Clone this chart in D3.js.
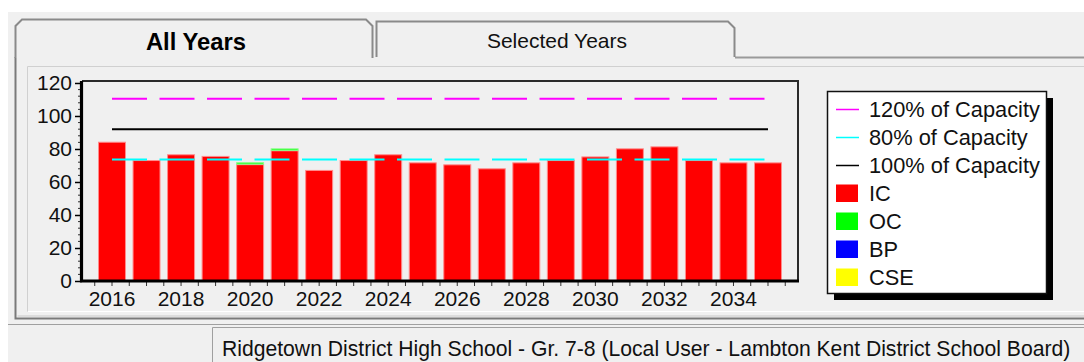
<!DOCTYPE html>
<html>
<head>
<meta charset="utf-8">
<script src="https://cdn.jsdelivr.net/npm/d3@7"></script>
<style>
  html, body { margin: 0; padding: 0; background: #ffffff; }
  svg { display: block; font-family: "Liberation Sans", Arial, sans-serif; }
</style>
</head>
<body>
<svg id="chart" width="1084" height="362"></svg>
<script>
// ---- data ----
const years = [2016, 2017, 2018, 2019, 2020, 2021, 2022, 2023, 2024, 2025,
               2026, 2027, 2028, 2029, 2030, 2031, 2032, 2033, 2034, 2035];
const icValues  = [84.4, 73.3, 76.8, 75.8, 70.8, 79.2, 67.3, 73.3, 76.8, 71.9,
                   70.7, 68.3, 71.9, 73.3, 75.5, 80.4, 81.6, 73.3, 71.9, 71.9];
const ocValues  = [0, 0, 0, 0, 1.2, 1.2, 0, 0, 0, 0,
                   0, 0, 0, 0, 0, 0, 0, 0, 0, 0];
const bpValues  = [0, 0, 0, 0, 0, 0, 0, 0, 0, 0,
                   0, 0, 0, 0, 0, 0, 0, 0, 0, 0];
const cseValues = [0, 0, 0, 0, 0, 0, 0, 0, 0, 0,
                   0, 0, 0, 0, 0, 0, 0, 0, 0, 0];
const seriesKeys = ["IC", "OC", "BP", "CSE"];

const capacity = 92;
const capacityLabels  = ["120% of Capacity", "80% of Capacity", "100% of Capacity"];
const capacityFactors = [1.2, 0.8, 1.0];

const yTickValues  = [0, 20, 40, 60, 80, 100, 120];
const xLabelYears  = [2016, 2018, 2020, 2022, 2024, 2026, 2028, 2030, 2032, 2034];
const tabLabels    = ["All Years", "Selected Years"];
const statusText   = "Ridgetown District High School - Gr. 7-8 (Local User - Lambton Kent District School Board)";

// ---- styles ----
const seriesColor = { IC: "#ff0000", OC: "#00ff00", BP: "#0000ff", CSE: "#ffff00" };
const capacityColor = ["#ff00ff", "#00ffff", "#000000"];
const capacityDash  = ["35,12.5", "35,12.5", null];
const FONT = 21;
const LEGEND_FONT = 21.8;

const svg = d3.select("#chart");

// ---- window chrome: tab control and status bar ----
svg.append("rect").attr("x", 8).attr("y", 12).attr("width", 1076).attr("height", 350)
  .attr("fill", "#f0f0f0");

// panel frame
svg.append("path")
  .attr("d", "M15.5,57 L15.5,318.5 L1084,318.5")
  .attr("fill", "none").attr("stroke", "#7a7a7a").attr("stroke-width", 2);
svg.append("path")
  .attr("d", "M735,57.5 L1084,57.5")
  .attr("fill", "none").attr("stroke", "#9a9a9a").attr("stroke-width", 2);
svg.append("path")
  .attr("d", "M17.5,316 L1084,316")
  .attr("fill", "none").attr("stroke", "#c8c8c8").attr("stroke-width", 1);

// inner chart area
svg.append("path")
  .attr("d", "M27.5,311.5 L27.5,66.5 L1084,66.5")
  .attr("fill", "none").attr("stroke", "#d0d0d0").attr("stroke-width", 1);
svg.append("path")
  .attr("d", "M28,311.5 L1084,311.5")
  .attr("fill", "none").attr("stroke", "#ffffff").attr("stroke-width", 1);

// inactive tab
svg.append("path")
  .attr("d", "M376.5,57 L376.5,21.5 L728,21.5 L734.5,28 L734.5,57")
  .attr("fill", "#f0f0f0").attr("stroke", "#8a8a8a").attr("stroke-width", 2);
// active tab
svg.append("path")
  .attr("d", "M15.5,58 L15.5,26 L22,19.5 L366,19.5 L372.5,26 L372.5,58")
  .attr("fill", "#f0f0f0").attr("stroke", "#8a8a8a").attr("stroke-width", 2);

svg.append("text").attr("x", 196).attr("y", 50).attr("text-anchor", "middle")
  .attr("font-size", 23.8).attr("font-weight", "bold").attr("fill", "#000")
  .text(tabLabels[0]);
svg.append("text").attr("x", 557).attr("y", 48).attr("text-anchor", "middle")
  .attr("font-size", FONT).attr("fill", "#111")
  .text(tabLabels[1]);

// status bar
svg.append("path").attr("d", "M8,324.5 L1084,324.5")
  .attr("stroke", "#a0a0a0").attr("stroke-width", 1);
svg.append("path").attr("d", "M212.5,362 L212.5,327.5 L1084,327.5")
  .attr("fill", "none").attr("stroke", "#a0a0a0").attr("stroke-width", 1);
svg.append("text").attr("x", 222).attr("y", 355.5)
  .attr("font-size", 21.15).attr("fill", "#111").text(statusText);

// ---- plot ----
const plot = { left: 82, right: 798, top: 81, bottom: 281 };

const x = d3.scaleBand()
  .domain(years)
  .range([plot.left, plot.right])
  .paddingInner(0.19)
  .paddingOuter(0.464);

const y = d3.scaleLinear()
  .domain([0, 121.2])
  .range([plot.bottom, plot.top]);

const rows = years.map((yr, i) => ({
  year: yr, IC: icValues[i], OC: ocValues[i], BP: bpValues[i], CSE: cseValues[i]
}));
const stacked = d3.stack().keys(seriesKeys)(rows);

// stacked bars, each segment with a soft edge in a lighter tint of its colour
const barG = svg.append("g");
barG.selectAll("g")
  .data(stacked)
  .join("g")
  .attr("fill", d => seriesColor[d.key])
  .attr("stroke", d => d3.interpolateRgb(seriesColor[d.key], "#ffffff")(0.55))
  .attr("stroke-width", 1)
  .selectAll("rect")
  .data(d => d.filter(p => p[1] - p[0] > 0))
  .join("rect")
  .attr("x", d => x(d.data.year) + 0.5)
  .attr("width", x.bandwidth() - 1)
  .attr("y", d => y(d[1]) + 0.5)
  .attr("height", d => Math.max(0.5, y(d[0]) - y(d[1]) - 0.5));

// capacity reference lines, from first to last bar centre
const cx0 = x(years[0]) + x.bandwidth() / 2;
const cx1 = x(years[years.length - 1]) + x.bandwidth() / 2;
capacityFactors.forEach((f, i) => {
  svg.append("line")
    .attr("x1", cx0).attr("x2", cx1)
    .attr("y1", y(capacity * f)).attr("y2", y(capacity * f))
    .attr("stroke", capacityColor[i])
    .attr("stroke-width", 2)
    .attr("stroke-dasharray", capacityDash[i]);
});

// plot frame (top and right)
svg.append("path")
  .attr("d", `M${plot.left},${plot.top} L${plot.right},${plot.top} L${plot.right},${plot.bottom}`)
  .attr("fill", "none").attr("stroke", "#2a2a2a").attr("stroke-width", 2);

// y axis
const yAxis = d3.axisLeft(y)
  .tickValues(yTickValues)
  .tickSize(7)
  .tickPadding(3);
const yG = svg.append("g").attr("transform", `translate(${plot.left},0)`).call(yAxis);
yG.select(".domain").remove();
yG.selectAll(".tick line").attr("stroke", "#000").attr("stroke-width", 1.5);
yG.selectAll(".tick text").attr("font-size", FONT).attr("fill", "#111")
  .attr("font-family", "Liberation Sans, Arial, sans-serif");

// y minor ticks every 4 units
const yMinor = d3.range(0, 121, 4).filter(v => v % 20 !== 0);
svg.append("g").selectAll("line")
  .data(yMinor)
  .join("line")
  .attr("x1", plot.left - 4).attr("x2", plot.left)
  .attr("y1", d => y(d)).attr("y2", d => y(d))
  .attr("stroke", "#333").attr("stroke-width", 1);

// x axis: ticks at bar centres (labels every second year)
const xAxis = d3.axisBottom(x)
  .tickValues(years)
  .tickSize(5)
  .tickPadding(5)
  .tickFormat(d => xLabelYears.includes(d) ? String(d) : "");
const xG = svg.append("g").attr("transform", `translate(0,${plot.bottom})`).call(xAxis);
xG.select(".domain").remove();
xG.selectAll(".tick line").attr("stroke", "#333").attr("stroke-width", 1);
xG.selectAll(".tick text").attr("font-size", FONT).attr("fill", "#111")
  .attr("font-family", "Liberation Sans, Arial, sans-serif");

// x minor ticks half-way between bars, plus both ends
const step = x.step();
const halfTicks = years.map(yr => x(yr) + x.bandwidth() / 2 - step / 2)
  .concat([x(years[years.length - 1]) + x.bandwidth() / 2 + step / 2]);
svg.append("g").selectAll("line")
  .data(halfTicks)
  .join("line")
  .attr("x1", d => d).attr("x2", d => d)
  .attr("y1", plot.bottom).attr("y2", plot.bottom + 5)
  .attr("stroke", "#333").attr("stroke-width", 1);

// heavy left and bottom axis lines
svg.append("path")
  .attr("d", `M${plot.left - 0.5},${plot.top} L${plot.left - 0.5},${plot.bottom} L${plot.right + 1},${plot.bottom}`)
  .attr("fill", "none").attr("stroke", "#000").attr("stroke-width", 3.2);

// ---- legend ----
const lg = { x: 827, y: 91, w: 219, h: 202, shadow: 7, row: 28 };
svg.append("rect").attr("x", lg.x + lg.shadow).attr("y", lg.y + lg.shadow)
  .attr("width", lg.w).attr("height", lg.h).attr("fill", "#000");
svg.append("rect").attr("x", lg.x + 0.5).attr("y", lg.y + 0.5)
  .attr("width", lg.w).attr("height", lg.h)
  .attr("fill", "#fff").attr("stroke", "#111").attr("stroke-width", 1.5);

const legendItems = capacityLabels.map((lab, i) => ({ label: lab, kind: "line", color: capacityColor[i] }))
  .concat(seriesKeys.map(k => ({ label: k, kind: "box", color: seriesColor[k] })));

const li = svg.append("g").selectAll("g")
  .data(legendItems)
  .join("g")
  .attr("transform", (d, i) => `translate(${lg.x + 9},${lg.y + 18.5 + i * lg.row})`);

li.filter(d => d.kind === "line").append("line")
  .attr("x1", 0).attr("x2", 23).attr("y1", 0).attr("y2", 0)
  .attr("stroke", d => d.color).attr("stroke-width", 1.5);
li.filter(d => d.kind === "box").append("rect")
  .attr("x", 0).attr("y", -9).attr("width", 22).attr("height", 17.5)
  .attr("fill", d => d.color);
li.append("text")
  .attr("x", 33).attr("y", 7.5)
  .attr("font-size", LEGEND_FONT).attr("fill", "#111")
  .text(d => d.label);
</script>
</body>
</html>
